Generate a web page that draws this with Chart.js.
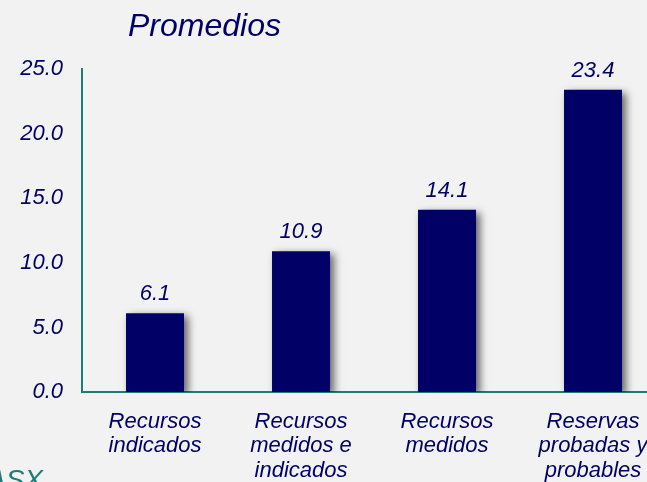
<!DOCTYPE html>
<html>
<head>
<meta charset="utf-8">
<script src="https://cdn.jsdelivr.net/npm/chart.js@4/dist/chart.umd.min.js"></script>
<style>
  html, body { margin: 0; padding: 0; background: #f2f2f2; overflow: hidden; }
  #wrap { width: 647px; height: 482px; overflow: hidden; position: relative; }
  #wrap canvas { position: absolute; left: 0; top: 0; }
</style>
</head>
<body>
<div id="wrap"><canvas id="chart-promedios" width="700" height="482"></canvas></div>
<script>
const categories = [
  ["Recursos", "indicados"],
  ["Recursos", "medidos e", "indicados"],
  ["Recursos", "medidos"],
  ["Reservas", "probadas y", "probables"],
];
const promedios = [6.1, 10.9, 14.1, 23.4];
const yMin = 0;
const yMax = 25;
const yStep = 5;

const NAVY = "#000066";
const TEAL = "#1b7d76";
const FONT = "'Liberation Sans', Arial, sans-serif";

// sombra gris detrás de las barras
const barShadow = {
  id: "barShadow",
  beforeDatasetsDraw(chart) {
    const ctx = chart.ctx;
    ctx.save();
    ctx.shadowColor = "rgba(0, 0, 0, 0.6)";
    ctx.shadowBlur = 8;
    ctx.shadowOffsetX = 4;
    ctx.shadowOffsetY = 3;
  },
  afterDatasetsDraw(chart) {
    chart.ctx.restore();
  },
};

// valores encima de cada barra + título y texto de fuente
const extraText = {
  id: "extraText",
  afterDraw(chart) {
    const ctx = chart.ctx;
    const meta = chart.getDatasetMeta(0);
    ctx.save();
    ctx.fillStyle = NAVY;
    ctx.font = "italic 22px " + FONT;
    ctx.textAlign = "center";
    ctx.textBaseline = "alphabetic";
    meta.data.forEach((bar, i) => {
      ctx.fillText(promedios[i].toFixed(1), bar.x, bar.y - 13);
    });

    ctx.textAlign = "left";
    ctx.font = "italic 32px " + FONT;
    ctx.fillText("Promedios", 128, 36);

    ctx.fillStyle = TEAL;
    ctx.font = "italic 28px " + FONT;
    ctx.fillText("ASX", -13, 489);
    ctx.restore();
  },
};

new Chart(document.getElementById("chart-promedios").getContext("2d"), {
  type: "bar",
  data: {
    labels: categories,
    datasets: [
      {
        data: promedios,
        backgroundColor: NAVY,
        borderWidth: 0,
        barPercentage: 0.397,
        categoryPercentage: 1,
      },
    ],
  },
  plugins: [barShadow, extraText],
  options: {
    responsive: false,
    animation: false,
    layout: { padding: { top: 69, right: 34, left: 0, bottom: 0 } },
    plugins: {
      legend: { display: false },
      tooltip: { enabled: false },
      title: { display: false },
    },
    scales: {
      x: {
        grid: { display: false, drawTicks: false },
        border: { color: TEAL, width: 2 },
        ticks: {
          color: NAVY,
          padding: 18,
          maxRotation: 0,
          autoSkip: false,
          font: { family: FONT, size: 22, style: "italic", lineHeight: 1.1 },
        },
        afterFit(scale) { scale.height = 90; },
      },
      y: {
        min: yMin,
        max: yMax,
        grid: { display: false, drawTicks: false },
        border: { color: TEAL, width: 2 },
        ticks: {
          stepSize: yStep,
          color: NAVY,
          padding: 19,
          font: { family: FONT, size: 22, style: "italic" },
          callback: (v) => Number(v).toFixed(1),
        },
        afterFit(scale) { scale.width = 82; },
      },
    },
  },
});
</script>
</body>
</html>
